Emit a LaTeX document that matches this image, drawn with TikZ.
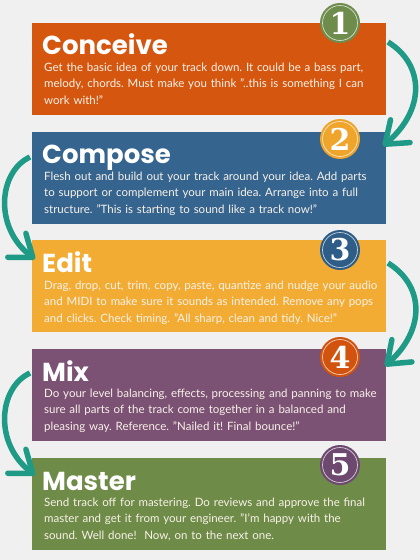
\documentclass[tikz,border=0pt]{standalone}
\usepackage{fontspec}
\setmainfont{Lato}
\newfontfamily\titlefont{Poppins}
\newfontfamily\numfont{DejaVu Serif}
\usetikzlibrary{arrows.meta}
\definecolor{bgc}{HTML}{F0F0F0}
\definecolor{cA}{HTML}{D5570F}
\definecolor{cB}{HTML}{35648F}
\definecolor{cC}{HTML}{F3AC33}
\definecolor{cD}{HTML}{7B5174}
\definecolor{cE}{HTML}{6F8B48}
\definecolor{nA}{HTML}{6E8C4C}
\definecolor{nB}{HTML}{EFA52C}
\definecolor{nC}{HTML}{2E5D87}
\definecolor{nD}{HTML}{D2530E}
\definecolor{nE}{HTML}{6D4970}
\definecolor{teal}{HTML}{1F9A87}
\definecolor{bodyc}{HTML}{F8F1E8}
\frenchspacing
\tikzset{
  stagebox/.style={draw=none, anchor=north west, minimum width=354pt, minimum height=92pt, inner sep=0pt},
  stagetitle/.style={anchor=base west, inner sep=0pt, text=white, font=\titlefont\bfseries\fontsize{26}{30}\selectfont},
  stagebody/.style={anchor=north west, inner sep=0pt, text=bodyc, text width=350pt, align=left, font=\fontsize{11.5}{16.3}\selectfont\frenchspacing},
  numcirc/.style={circle, minimum size=40pt, inner sep=0pt, text=white, font=\numfont\bfseries\fontsize{30}{30}\selectfont},
  flow/.style={teal, line width=5.5pt, -{Straight Barb[length=20pt, width=30pt, line width=5.5pt, round]}}
}
\newcommand{\ring}[1]{\draw[white, opacity=0.7, line width=0.7pt] (#1.center) circle (17.5pt);}
\begin{document}
\begin{tikzpicture}[x=1pt, y=-1pt]
\fill[bgc] (0,0) rectangle (420,560);
\useasboundingbox (0,0) rectangle (420,560);
% boxes
\node[stagebox, fill=cA] (b1) at (32,23) {};
\node[stagebox, fill=cB] (b2) at (32,132) {};
\node[stagebox, fill=cC] (b3) at (32,240) {};
\node[stagebox, fill=cD] (b4) at (32,349) {};
\node[stagebox, fill=cE] (b5) at (32,458) {};
% titles
\node[stagetitle] (t1) at (42,54) {Conceive};
\node[stagetitle] (t2) at (42,163) {Compose};
\node[stagetitle] (t3) at (42,272) {Edit};
\node[stagetitle] (t4) at (42,381) {Mix};
\node[stagetitle] (t5) at (42,490) {Master};
% bodies
\node[stagebody] (d1) at (44,63) {Get the basic idea of your track down. It could be a bass part,\\melody, chords. Must make you think "..this is something I can\\work with!"};
\node[stagebody] (d2) at (44,172) {Flesh out and build out your track around your idea. Add parts\\to support or complement your main idea. Arrange into a full\\structure. "This is starting to sound like a track now!"};
\node[stagebody] (d3) at (44,281) {Drag, drop, cut, trim, copy, paste, quantize and nudge your audio\\and MIDI to make sure it sounds as intended. Remove any pops\\and clicks. Check timing. "All sharp, clean and tidy. Nice!"};
\node[stagebody] (d4) at (44,389) {Do your level balancing, effects, processing and panning to make\\sure all parts of the track come together in a balanced and\\pleasing way. Reference. "Nailed it! Final bounce!"};
\node[stagebody] (d5) at (44,498) {Send track off for mastering. Do reviews and approve the final\\master and get it from your engineer. "I'm happy with the\\sound. Well done!\ \ Now, on to the next one.};
% number circles
\node[numcirc, fill=nA] (n1) at (340,23) {1}; \ring{n1}
\node[numcirc, fill=nB] (n2) at (340,139) {2}; \ring{n2}
\node[numcirc, fill=nC] (n3) at (340,250) {3}; \ring{n3}
\node[numcirc, fill=nD] (n4) at (340,357) {4}; \ring{n4}
\node[numcirc, fill=nE] (n5) at (340,465) {5}; \ring{n5}
% arrows
\coordinate (a1s) at (388,42);  \coordinate (a1e) at (383,146);
\coordinate (a2s) at (30,157);  \coordinate (a2e) at (35,259);
\coordinate (a3s) at (388,263); \coordinate (a3e) at (385,366);
\coordinate (a4s) at (30,373);  \coordinate (a4e) at (35,475);
\draw[flow] (a1s) .. controls (425,65) and (425,110) .. (a1e);
\draw[flow] (a2s) .. controls (-2,172) and (-6,228) .. (a2e);
\draw[flow] (a3s) .. controls (425,286) and (425,330) .. (a3e);
\draw[flow] (a4s) .. controls (-2,388) and (-6,444) .. (a4e);
\end{tikzpicture}
\end{document}
